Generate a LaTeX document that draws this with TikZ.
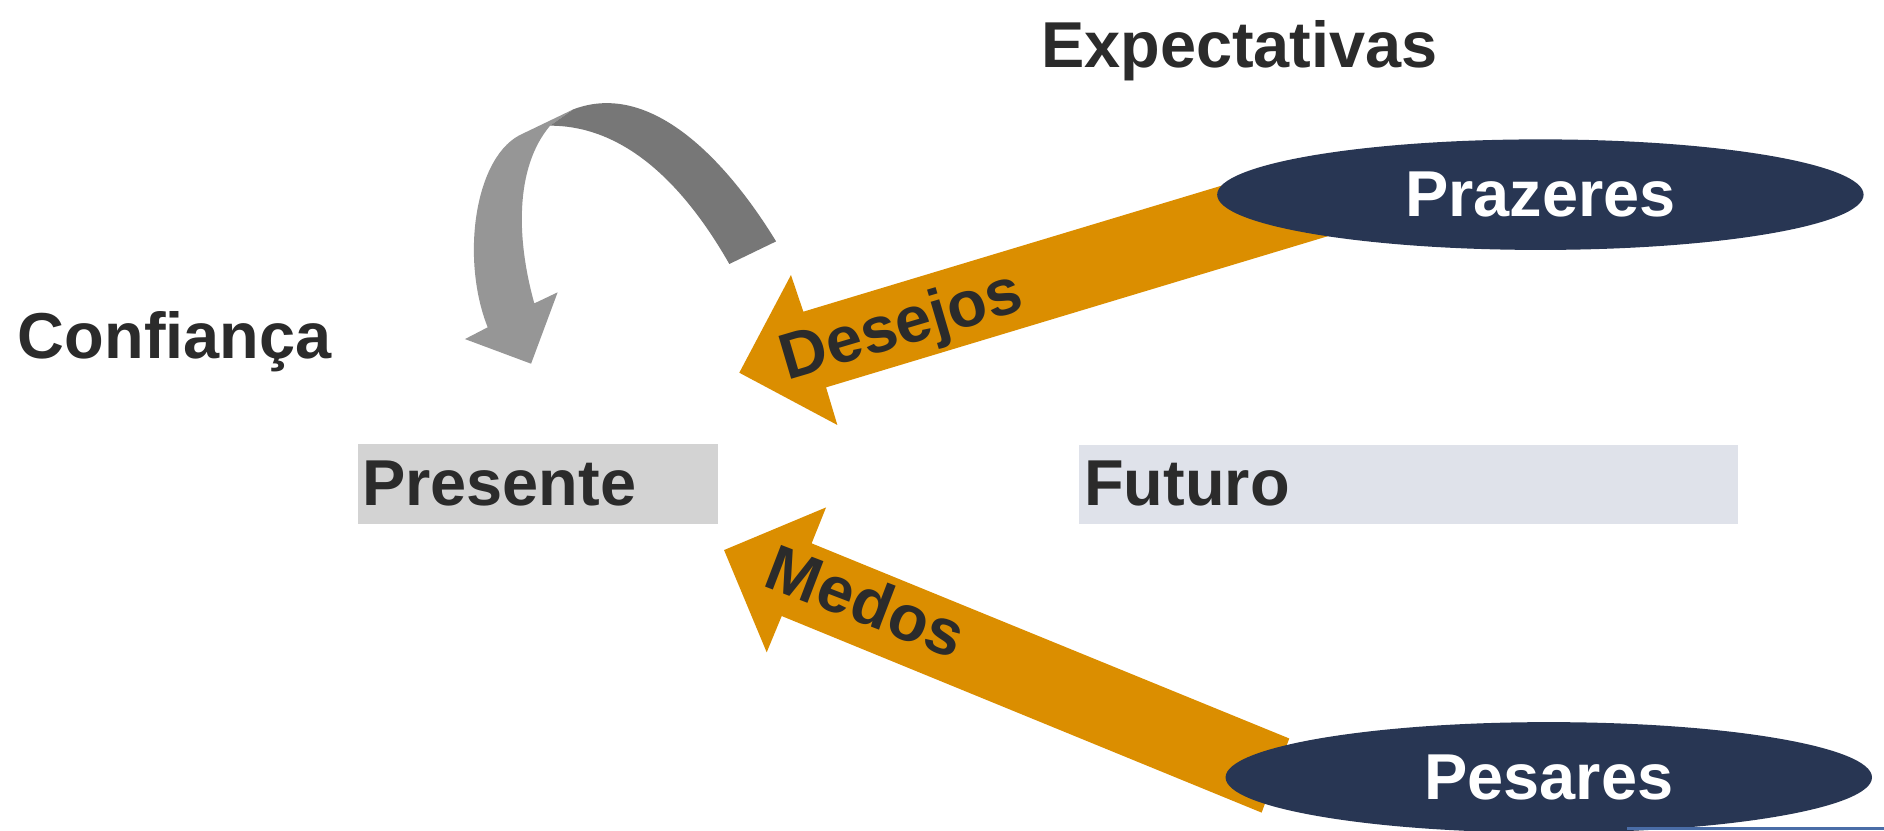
\documentclass[tikz,border=0pt]{standalone}
\usepackage{fontspec}
\setmainfont[Ligatures=NoCommon]{Liberation Sans}
\usetikzlibrary{shapes.geometric}
\definecolor{txt}{HTML}{2B2B2B}
\definecolor{orng}{HTML}{DB8E00}
\definecolor{navy}{HTML}{283653}
\definecolor{gdark}{HTML}{777777}
\definecolor{glight}{HTML}{969696}
\definecolor{boxP}{HTML}{D3D3D3}
\definecolor{boxF}{HTML}{DFE2EA}
\definecolor{rulec}{HTML}{4A6DA7}
\begin{document}
\begin{tikzpicture}[x=0.5pt,y=-0.5pt,
  lbl/.style={font=\fontsize{27}{32}\selectfont\bfseries, text=txt, inner sep=0pt},
  oval/.style={ellipse, fill=navy, minimum width=269pt, minimum height=46pt, inner sep=0pt,
    font=\fontsize{27}{32}\selectfont\bfseries, text=white},
  blockarrow/.style={fill=orng},
  panel/.style={inner sep=0pt, anchor=north west, draw=none}
]
\useasboundingbox (0,0) rectangle (1568,690.8);
\fill[white] (0,0) rectangle (1568,690.8);

% curved grey arrow (Confianca loop): light front part
\fill[glight] (435.6,111) .. controls (395,128) and (383,215) .. (405.9,272.4)
  -- (387,282.2) -- (442,302.7) -- (464.1,243.3) -- (444.7,252.5)
  .. controls (430,200) and (428,140) .. (457.8,104.6)
  -- (477.2,91) -- cycle;
% dark back part
\fill[gdark] (457.8,104.6) -- (477.2,91)
  .. controls (543,66) and (606.4,136.3) .. (645.9,200.9)
  -- (607,219.7)
  .. controls (573.8,161.5) and (524.8,104.6) .. (457.8,104.6)
  -- cycle;

% boxes
\node[panel, fill=boxP, minimum width=149.65pt, minimum height=33.05pt] (presentebox) at (297.7,369.5) {};
\node[panel, fill=boxF, minimum width=274pt, minimum height=32.8pt] (futurobox) at (898,370) {};
\node[lbl, anchor=base west] (presente) at (301,420.3) {Presente};
\node[lbl, anchor=base west] (futuro) at (902,420.3) {Futuro};

% titles
\node[lbl, anchor=base west] (expectativas) at (866,56) {Expectativas};
\node[lbl, anchor=base west] (confianca) at (14.5,298) {Confiança};

% orange block arrows
\fill[blockarrow] (1096.1,130.6) -- (668.6,259.4) -- (658.3,228.9) -- (615.3,310.2)
  -- (696.9,353.7) -- (687.5,322.4) -- (1115,193.6) -- cycle;
\fill[blockarrow] (1073,614.6) -- (675.5,452.2) -- (687.5,422.3) -- (602.6,457.8)
  -- (638.1,542.9) -- (650.6,512.7) -- (1050,676.3) -- cycle;

% ellipses
\node[oval] (prazeres) at (1282,162) {Prazeres};
\node[oval] (pesares) at (1289,647) {Pesares};

% arrow labels
\node[lbl, anchor=base, rotate=16.5] (desejos) at (755,287) {Desejos};
\node[lbl, anchor=base, rotate=-21] (medos) at (714,518) {Medos};

% thin rule at bottom right
\fill[rulec] (1354,688.6) rectangle (1568,690.8);
\end{tikzpicture}
\end{document}
